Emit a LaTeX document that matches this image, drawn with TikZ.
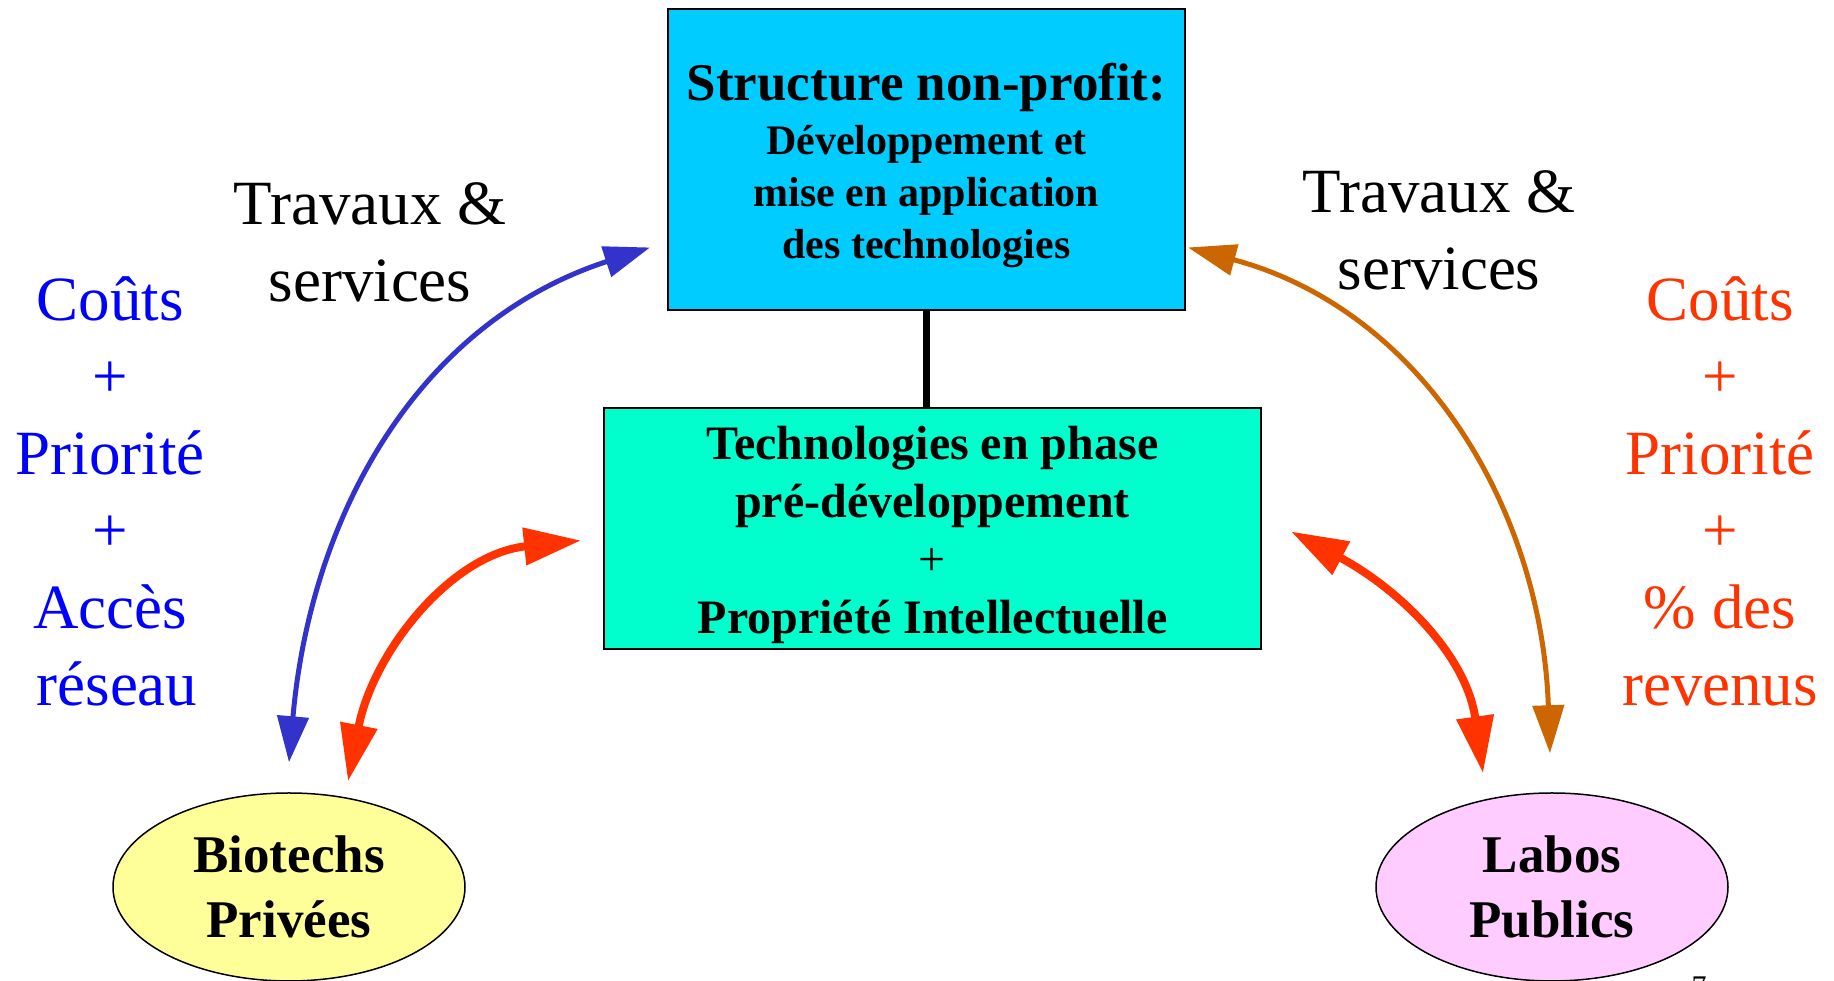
\documentclass[tikz,border=0pt]{standalone}
\usepackage{fontspec}
\setmainfont{Liberation Serif}
\usepackage{tikz}
\usetikzlibrary{arrows.meta,shapes.geometric}
\usepackage{xcolor}

\definecolor{structcyan}{HTML}{00CCFF}
\definecolor{techgreen}{HTML}{00FFCC}
\definecolor{bioyellow}{HTML}{FFFF99}
\definecolor{labopink}{HTML}{FFCCFF}
\definecolor{arrowblue}{HTML}{3333CC}
\definecolor{arrowred}{HTML}{FF3300}
\definecolor{arroworange}{HTML}{CC6600}
\definecolor{textblue}{HTML}{0000FF}
\definecolor{textred}{HTML}{FF3300}

\begin{document}
\begin{tikzpicture}[x=1pt,y=1pt,
  box/.style={draw=black, line width=2pt, inner sep=0pt},
  boxtext/.style={align=center, font=\bfseries},
  blob/.style={ellipse, draw=black, line width=1.5pt, inner sep=0pt,
    minimum width=352pt, minimum height=188pt, align=center,
    font=\bfseries\fontsize{53}{65}\selectfont},
  lbl/.style={align=center, font=\fontsize{63}{77}\selectfont},
  bluearrow/.style={draw=arrowblue, line width=5pt,
    {Triangle[length=46pt,width=31pt]}-{Triangle[length=46pt,width=31pt]}},
  orangearrow/.style={draw=arroworange, line width=5pt,
    {Triangle[length=48pt,width=31pt]}-{Triangle[length=48pt,width=31pt]}},
  redarrow/.style={draw=arrowred, line width=8pt,
    {Triangle[length=57pt,width=36pt]}-{Triangle[length=57pt,width=36pt]}}]
\useasboundingbox (0,0) rectangle (1834,981);

\node[box, fill=structcyan, minimum width=517pt, minimum height=301pt] (struct) at (926.5,821.5) {};
\node[boxtext, font=\bfseries\fontsize{42}{52}\selectfont] (structtxt) at ([yshift=-6pt]struct.center)
  {{\fontsize{53}{60}\selectfont Structure non-profit:}\\[2pt]
   Développement et\\mise en application\\des technologies};
\node[box, fill=techgreen, minimum width=657pt, minimum height=241pt] (tech) at (932.5,452.5) {};
\node[boxtext, font=\bfseries\fontsize{48}{58}\selectfont] (techtxt) at ([yshift=-6pt]tech.center)
  {Technologies en phase\\pré-développement\\{\mdseries +}\\Propriété Intellectuelle};

\draw[line width=7pt] (struct.south) -- (struct.south |- tech.north);

\node[blob, fill=bioyellow] (bio) at (289,94) {Biotechs\\Privées};
\node[blob, fill=labopink] (labo) at (1552,94) {Labos\\Publics};

\node[lbl] (travL) at (370,739) {Travaux \&\\services};
\node[lbl] (travR) at (1439,751) {Travaux \&\\services};
\node[lbl, text=textblue] (gainL) at (110,490) {Coûts\\+\\Priorité\\+\\Accès\\\hspace*{14pt}réseau};
\node[lbl, text=textred] (gainR) at (1720,490) {Coûts\\+\\Priorité\\+\\\% des\\revenus};

\draw[bluearrow] ([yshift=30pt]bio.north) to[out=85,in=198]
  ([xshift=-17pt,yshift=-88pt]struct.west);
\draw[redarrow] ([xshift=59pt,yshift=11pt]bio.north) to[out=79,in=186]
  ([xshift=-22pt,yshift=-12pt]tech.west);
\draw[redarrow] ([xshift=29pt,yshift=-3pt]tech.east) to[out=-28,in=98]
  ([xshift=-69pt,yshift=19pt]labo.north);
\draw[orangearrow] ([xshift=2pt,yshift=-88pt]struct.east) to[out=-15,in=92]
  ([xshift=-2pt,yshift=39pt]labo.north);

\node[anchor=north, font=\fontsize{30}{36}\selectfont] (pnum) at (1699,8) {7};
\end{tikzpicture}
\end{document}
